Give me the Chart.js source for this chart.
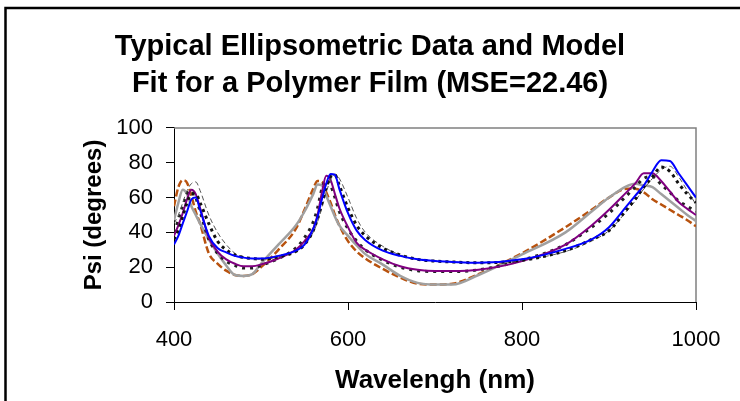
<!DOCTYPE html>
<html>
<head>
<meta charset="utf-8">
<script src="https://cdn.jsdelivr.net/npm/chart.js@4.4.1/dist/chart.umd.min.js"></script>
<style>
html,body{margin:0;padding:0;background:#fff;}
canvas{display:block;}
</style>
</head>
<body>
<canvas id="c" width="740" height="401"></canvas>
<script>
const wavelengths = [400,405,410,415,420,425,430,440,450,460,470,480,490,500,520,540,550,560,565,570,575,580,585,590,600,610,620,640,660,680,700,720,750,800,850,880,900,920,930,940,950,960,970,980,990,1000];
const blueModel   = [33,38,45,52,59,60,53,38,31,28.5,26.5,25.5,25,25,26.5,29.5,33,42,49,59,68,73.5,73,65,51,41,35.5,29.5,26.5,24.5,23.5,23,22.5,24.5,30.5,36,43,55,61,67,75,81.5,81,74,67,60];
const blueData    = [36,41,49,57,62,62,57,45,35,30,27,25.5,25,24.5,26,29,33,41,48,57,66,72,73,67,54,44,38,31,27,24.5,23.5,23,22.5,24,29.5,36,41,53,59,66,72,77.5,75,68,62,57];
const purpleModel = [38,44,51,59,64.5,62,54,37,29,24.5,22,20.5,20.5,21.5,25,30,35,42,50,63,72.5,70,62,54,43,34,30,24.5,20.5,18.5,17.8,17.8,18.5,23.5,33,44,53,63,68,74,74,69.5,63.5,57.5,53.5,50];
const purpleData  = [40,47,55,62,64,60,52,36,28,23.5,21,19.5,19.5,21,25,31,37,46,54,65,70,67,60,52,42,35,30,24,20,18,17.5,17.5,18.5,24,33,43,51,61,66,71,72,67.5,63,58,55,52];
const grayModel   = [47,57,64.5,62,55,50,45,36,28,21,15.5,15,16,22,33,44,52,62,67.5,67,61,55,49,44,38,32.5,27.5,21.5,15,11,10,10,15.5,27.3,40,52,60,66.5,68,67,66,62,58,54,50,46.5];
const brownData   = [55,66,70,68.5,61,52,45,28,22,18,15.5,15,16,20,30,42,53,65,69.5,69,63,57,50,44,35,29,25,19,14,10.5,10,10.5,16,28,43,53,60,65,65,63,59,56,53,50,47,43.5];
const thinData    = [45,50,57,64,68,69,64,50,40,33,28,26,25,24.5,26,29,33,40,46,54,63,70,73.5,71,60,48,40,32,27,24.5,23.5,23,22.5,24,29,35,41,52,58,65,71,76,78,72,64,56];
const xTicks = {min:400, max:1000, step:200};
const yTicks = {min:0, max:100, step:20};
const titleLines = ['Typical Ellipsometric Data and Model','Fit for a Polymer Film (MSE=22.46)'];
const xTitle = 'Wavelengh (nm)';
const yTitle = 'Psi (degrees)';

const FONT = "'Liberation Sans', Arial, sans-serif";
const pts = arr => wavelengths.map((w,i)=>({x:w,y:arr[i]}));
const ds = (arr, color, width, dash) => ({
  data: pts(arr), borderColor: color, borderWidth: width, borderDash: dash || [],
  pointRadius: 0, fill: false, cubicInterpolationMode: 'monotone', tension: 0.4, yAxisID: 'y'
});

const framePlugin = {
  id: 'frame',
  beforeDraw(chart){
    const ctx = chart.ctx;
    ctx.save();
    ctx.fillStyle = '#fff';
    ctx.fillRect(0,0,chart.width,chart.height);
    ctx.restore();
  },
  beforeDatasetsDraw(chart){
    const {ctx, chartArea:a} = chart;
    ctx.save();
    ctx.strokeStyle = '#808080';
    ctx.lineWidth = 1.5;
    ctx.beginPath();
    ctx.moveTo(a.left, a.top);
    ctx.lineTo(a.right, a.top);
    ctx.lineTo(a.right, a.bottom);
    ctx.stroke();
    ctx.restore();
  },
  afterDraw(chart){
    const ctx = chart.ctx;
    ctx.save();
    ctx.strokeStyle = '#000';
    ctx.lineWidth = 2.5;
    ctx.beginPath();
    ctx.moveTo(5.5, 401);
    ctx.lineTo(5.5, 8);
    ctx.lineTo(740, 8);
    ctx.stroke();
    ctx.restore();
  }
};

new Chart(document.getElementById('c'), {
  type: 'line',
  data: {
    datasets: [
      ds(blueModel, '#0000FF', 2),
      ds(blueData, '#111111', 3, [3,4]),
      ds(thinData, '#555555', 1, [5,3]),
      ds(purpleModel, '#800080', 2),
      ds(purpleData, '#222222', 3, [3,5]),
      ds(grayModel, '#A0A0A0', 2.5),
      ds(brownData, '#B8520E', 2.5, [7,3])
    ]
  },
  options: {
    responsive: false,
    animation: false,
    layout: {padding: {left:0, right:0, top:0, bottom:0}},
    plugins: {
      legend: {display:false},
      tooltip: {enabled:false},
      title: {
        display: true,
        text: titleLines,
        color: '#000',
        font: {family: FONT, size: 29, weight: 'bold', lineHeight: 1.27},
        padding: {top: 29, bottom: 25.3}
      }
    },
    scales: {
      x: {
        type: 'linear',
        min: xTicks.min, max: xTicks.max,
        afterFit: s => { s.height = 99; },
        ticks: {stepSize: xTicks.step, color:'#000', font:{family:FONT, size:22}, padding: 17, maxRotation:0,
                callback: v => String(v)},
        grid: {drawOnChartArea:false, drawTicks:true, tickLength:8, color:'#000', lineWidth:1},
        border: {color:'#000', width:1},
        title: {display:true, text:xTitle, color:'#000', font:{family:FONT, size:26, weight:'bold', lineHeight:1.2}, padding:{top:0,bottom:5}}
      },
      y: {
        type: 'linear',
        position: 'left',
        min: yTicks.min, max: yTicks.max,
        afterFit: s => { s.width = 174; },
        ticks: {stepSize: yTicks.step, color:'#000', font:{family:FONT, size:22}, padding: 13,
                callback: v => String(v)},
        grid: {drawOnChartArea:false, drawTicks:true, tickLength:8, color:'#000', lineWidth:1},
        border: {color:'#000', width:1},
        title: {display:true, text:yTitle, color:'#000', font:{family:FONT, size:24, weight:'bold', lineHeight:1.2}, padding:{top:80,bottom:0}}
      },
      yRight: {
        type: 'linear',
        position: 'right',
        min: yTicks.min, max: yTicks.max,
        afterFit: s => { s.width = 44; },
        ticks: {display:false},
        grid: {display:false},
        border: {display:false}
      }
    }
  },
  plugins: [framePlugin]
});
</script>
</body>
</html>
